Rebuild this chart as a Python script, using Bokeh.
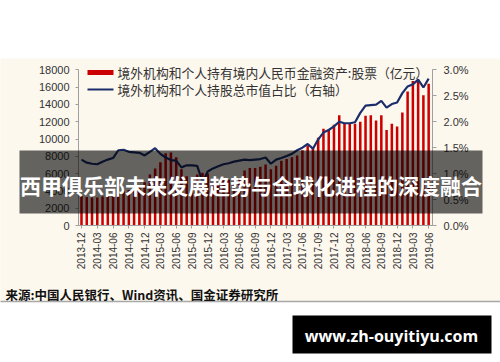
import math
from bokeh.plotting import figure
from bokeh.models import (Range1d, LinearAxis, FixedTicker, PrintfTickFormatter,
                          BoxAnnotation, Label, ColumnDataSource)
from bokeh.embed import file_html
from bokeh.resources import INLINE

# ---------------- data ----------------
tick_labels = ["2013-12", "2014-03", "2014-06", "2014-09", "2014-12", "2015-03",
               "2015-06", "2015-09", "2015-12", "2016-03", "2016-06", "2016-09",
               "2016-12", "2017-03", "2017-06", "2017-09", "2017-12", "2018-03",
               "2018-06", "2018-09", "2018-12", "2019-03", "2019-06"]

# 境外机构和个人持有境内人民币金融资产:股票（亿元）, monthly 2013-12 .. 2019-06
stock_holdings = [3450, 3300, 3230, 3230, 3350, 3550, 3700, 3850, 3950, 4100,
                  4300, 4600, 5000, 5900, 6600, 7300, 8350, 8450, 7900, 6500,
                  5700, 5500, 5900, 6100, 6000, 4700, 4650, 5200, 5300, 5200,
                  5500, 6350, 6650, 6650, 6800, 7050, 6500, 6900, 7500, 7700,
                  7900, 8100, 8700, 9250, 8950, 10150, 11180, 11100, 11650, 12750,
                  11850, 11850, 11750, 12000, 12700, 12750, 12150, 12750, 11050, 11750,
                  11450, 13050, 15500, 16700, 16650, 15050, 16400]

# 境外机构和个人持股总市值占比（右轴）, %
share_pct = [1.27, 1.21, 1.19, 1.18, 1.23, 1.27, 1.30, 1.45, 1.46, 1.42,
             1.41, 1.40, 1.35, 1.42, 1.49, 1.38, 1.31, 1.26, 1.25, 1.12,
             1.16, 1.16, 1.15, 0.84, 1.04, 1.10, 1.14, 1.18, 1.20, 1.23,
             1.25, 1.27, 1.26, 1.27, 1.28, 1.31, 1.19, 1.27, 1.30, 1.34,
             1.38, 1.45, 1.50, 1.57, 1.48, 1.66, 1.79, 1.84, 1.91, 2.00,
             1.97, 1.97, 1.99, 2.17, 2.31, 2.32, 2.33, 2.40, 2.27, 2.34,
             2.37, 2.55, 2.68, 2.72, 2.81, 2.66, 2.83]

left_ticks = [0, 2000, 4000, 6000, 8000, 10000, 12000, 14000, 16000, 18000]
right_ticks = [0.0, 0.5, 1.0, 1.5, 2.0, 2.5, 3.0]

bar_label = "境外机构和个人持有境内人民币金融资产:股票（亿元）"
line_label = "境外机构和个人持股总市值占比（右轴）"
banner_text = "西甲俱乐部未来发展趋势与全球化进程的深度融合"
source_text = "来源:中国人民银行、Wind资讯、国金证券研究所"
watermark_text = "www.zh-ouyitiyu.com"

months = [f"{2013 + (11 + k) // 12}-{(11 + k) % 12 + 1:02d}" for k in range(len(stock_holdings))]
xs = list(range(len(months)))

# ---------------- geometry (canvas pixels) ----------------
W, H = 500, 362
CL, CR, CT, CB = 78.0, 432.0, 69.3, 225.0     # chart area on the canvas
XA, XB = -0.57, 66.73                          # x extent of chart area
YA, YB = 0.0, 18000.0                          # left axis extent
PA, PB = 0.0, 3.0                              # right axis extent
CREAM = "#FDF8EE"
CJK = "Noto Sans CJK SC"

kx = (XB - XA) / (CR - CL)
ky = (YB - YA) / (CB - CT)
kp = (PB - PA) / (CB - CT)


def dx(px):
    return XA + (px - CL) * kx


def dy(py):
    return YA + (CB - py) * ky


src = ColumnDataSource(dict(x=xs, month=months, stock=stock_holdings, pct=share_pct))

p = figure(width=W, height=H, output_backend="svg", toolbar_location=None,
           x_range=Range1d(dx(0), dx(W)), y_range=Range1d(dy(H), dy(0)),
           min_border=0, background_fill_color="white", border_fill_color="white",
           outline_line_color=None)
p.xgrid.visible = False
p.ygrid.visible = False
p.extra_y_ranges = {"pct": Range1d(PA + (CB - H) * kp, PA + (CB - 0) * kp)}

# background panel & separator
p.add_layout(BoxAnnotation(left=dx(-5), right=dx(W + 5), top=dy(58), bottom=dy(301),
                           fill_color=CREAM, fill_alpha=1, line_color=None, level="underlay"))
p.add_layout(BoxAnnotation(left=dx(-5), right=dx(W + 5), top=dy(300.3), bottom=dy(301.8),
                           fill_color="#A8A8A8", fill_alpha=1, line_color=None, level="underlay"))


def style_axis(ax, tick_out, standoff, size):
    ax.major_label_text_font = "Liberation Sans"
    ax.major_label_text_font_size = size
    ax.major_label_text_color = "#333333"
    ax.axis_line_color = "#A0A0A0"
    ax.major_tick_line_color = "#A0A0A0"
    ax.major_tick_out = tick_out
    ax.major_tick_in = 0
    ax.minor_tick_out = 0
    ax.minor_tick_in = 0
    ax.major_label_standoff = standoff


yl = p.yaxis[0]
yl.ticker = FixedTicker(ticks=left_ticks)
yl.fixed_location = XA
yl.bounds = (YA, YB)
style_axis(yl, 3, 6, "11px")

yr = LinearAxis(y_range_name="pct")
yr.ticker = FixedTicker(ticks=right_ticks)
yr.formatter = PrintfTickFormatter(format="%.1f%%")
yr.fixed_location = XB
yr.bounds = (PA, PB)
style_axis(yr, 4, 7, "11px")
p.add_layout(yr, "right")

xa = p.xaxis[0]
tick_idx = [months.index(t) for t in tick_labels]
xa.ticker = FixedTicker(ticks=tick_idx)
xa.major_label_overrides = {i: t for i, t in zip(tick_idx, tick_labels)}
xa.major_label_orientation = math.pi / 2
xa.fixed_location = YA
xa.bounds = (XA, XB)
style_axis(xa, 3, 4, "10px")

# glyphs
p.vbar(x="x", top="stock", width=0.48, source=src, fill_color="#CC0000", line_color=None)
p.line(x="x", y="pct", source=src, y_range_name="pct", line_color="#1B2D6B", line_width=2.2)

# legend (drawn manually)
p.add_layout(BoxAnnotation(left=dx(87), right=dx(113), top=dy(69.5), bottom=dy(74.5),
                           fill_color="#CC0000", fill_alpha=1, line_color=None, level="annotation"))
p.add_layout(BoxAnnotation(left=dx(87), right=dx(113), top=dy(88), bottom=dy(90),
                           fill_color="#1B2D6B", fill_alpha=1, line_color=None, level="annotation"))
p.add_layout(Label(x=dx(117), y=dy(72), text=bar_label, text_font=CJK, text_font_size="12.8px",
                   text_color="#333333", text_baseline="middle", text_align="left"))
p.add_layout(Label(x=dx(117), y=dy(89), text=line_label, text_font=CJK, text_font_size="12.8px",
                   text_color="#333333", text_baseline="middle", text_align="left"))

# banner overlay
p.add_layout(BoxAnnotation(left=dx(19), right=dx(482), top=dy(150), bottom=dy(213),
                           fill_color="black", fill_alpha=0.6, line_color=None, level="overlay"))
p.add_layout(Label(x=dx(250.5), y=dy(184), text=banner_text, text_font=CJK,
                   text_font_size="21px", text_font_style="bold", text_color="white",
                   text_baseline="middle", text_align="center", level="overlay"))

# source
p.add_layout(Label(x=dx(5), y=dy(293.5), text=source_text, text_font=CJK,
                   text_font_size="12.5px", text_font_style="bold", text_color="#111111",
                   text_baseline="middle", text_align="left"))

# watermark
p.add_layout(BoxAnnotation(left=dx(292), right=dx(491), top=dy(315), bottom=dy(353),
                           fill_color="black", fill_alpha=1, line_color=None, level="overlay"))
p.add_layout(Label(x=dx(391), y=dy(335), text=watermark_text, text_font="Open Sans",
                   text_font_size="16px", text_font_style="bold", text_color="white",
                   text_baseline="middle", text_align="center", level="overlay"))

open("out.html", "w").write(file_html(p, INLINE))
